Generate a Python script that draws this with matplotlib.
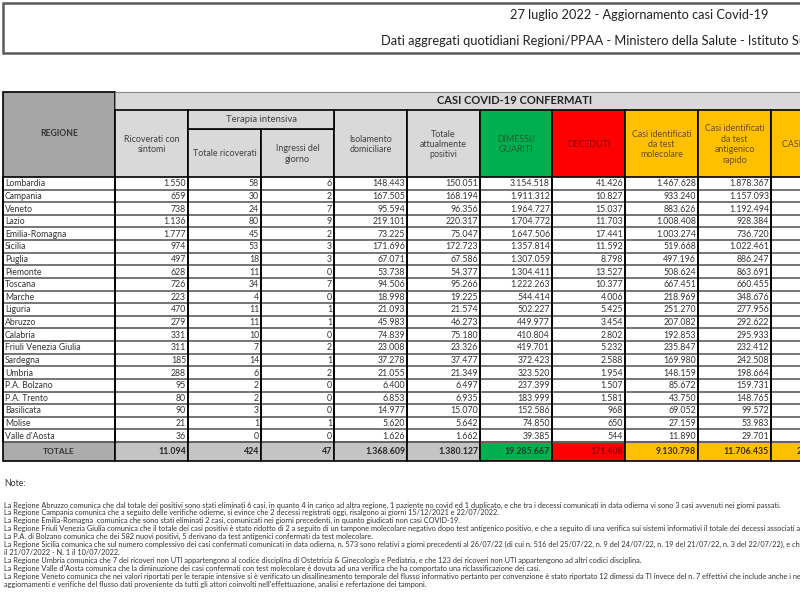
import matplotlib.pyplot as plt
from matplotlib.patches import Rectangle

plt.rcParams['font.family'] = ['Lato', 'DejaVu Sans']

# Table data (Italian regional COVID-19 bulletin, 27 July 2022)
regioni = ["Lombardia", "Campania", "Veneto", "Lazio", "Emilia-Romagna", "Sicilia",
           "Puglia", "Piemonte", "Toscana", "Marche", "Liguria", "Abruzzo", "Calabria",
           "Friuli Venezia Giulia", "Sardegna", "Umbria", "P.A. Bolzano", "P.A. Trento",
           "Basilicata", "Molise", "Valle d'Aosta"]
ricoverati = ["1.550", "659", "738", "1.136", "1.777", "974", "497", "628", "726", "223",
              "470", "279", "331", "311", "185", "288", "95", "80", "90", "21", "36"]
ti_totale = ["58", "30", "24", "80", "45", "53", "18", "11", "34", "4", "11", "11", "10",
             "7", "14", "6", "2", "2", "3", "1", "0"]
ti_ingressi = ["6", "2", "7", "9", "2", "3", "3", "0", "7", "0", "1", "1", "0", "2", "1",
               "2", "0", "0", "0", "1", "0"]
isolamento = ["148.443", "167.505", "95.594", "219.101", "73.225", "171.696", "67.071",
              "53.738", "94.506", "18.998", "21.093", "45.983", "74.839", "23.008",
              "37.278", "21.055", "6.400", "6.853", "14.977", "5.620", "1.626"]
positivi = ["150.051", "168.194", "96.356", "220.317", "75.047", "172.723", "67.586",
            "54.377", "95.266", "19.225", "21.574", "46.273", "75.180", "23.326",
            "37.477", "21.349", "6.497", "6.935", "15.070", "5.642", "1.662"]
dimessi = ["3.154.518", "1.911.312", "1.964.727", "1.704.772", "1.647.506", "1.357.814",
           "1.307.059", "1.304.411", "1.222.263", "544.414", "502.227", "449.977",
           "410.804", "419.701", "372.423", "323.520", "237.399", "183.999", "152.586",
           "74.850", "39.385"]
deceduti = ["41.426", "10.827", "15.037", "11.703", "17.441", "11.592", "8.798", "13.527",
            "10.377", "4.006", "5.425", "3.454", "2.802", "5.232", "2.588", "1.954",
            "1.507", "1.581", "968", "650", "544"]
casi_molecolare = ["1.467.628", "933.240", "883.626", "1.008.408", "1.003.274", "519.668",
                   "497.196", "508.624", "667.451", "218.969", "251.270", "207.082",
                   "192.853", "235.847", "169.980", "148.159", "85.672", "43.750",
                   "69.052", "27.159", "11.890"]
casi_antigenico = ["1.878.367", "1.157.093", "1.192.494", "928.384", "736.720", "1.022.461",
                   "886.247", "863.691", "660.455", "348.676", "277.956", "292.622",
                   "295.933", "232.412", "242.508", "198.664", "159.731", "148.765",
                   "99.572", "53.983", "29.701"]
totali = ["11.094", "424", "47", "1.368.609", "1.380.127", "19.285.667", "171.408",
          "9.130.798", "11.706.435", "20.837.233"]

headers = ["Ricoverati con\nsintomi", "Totale ricoverati", "Ingressi del\ngiorno",
           "Isolamento\ndomiciliare", "Totale\nattualmente\npositivi", "DIMESSI/\nGUARITI",
           "DECEDUTI", "Casi identificati\nda test\nmolecolare",
           "Casi identificati\nda test\nantigenico\nrapido", "CASI TOTALI"]

note = [
    "La Regione Abruzzo comunica che dal totale dei positivi sono stati eliminati 6 casi, in quanto 4 in carico ad altra regione, 1 paziente no covid ed 1 duplicato, e che tra i decessi comunicati in data odierna vi sono 3 casi avvenuti nei giorni passati.",
    "La Regione Campania comunica che a seguito delle verifiche odierne, si evince che 2 decessi registrati oggi, risalgono ai giorni 15/12/2021 e 22/07/2022.",
    "La Regione Emilia-Romagna  comunica che sono stati eliminati 2 casi, comunicati nei giorni precedenti, in quanto giudicati non casi COVID-19.",
    "La Regione Friuli Venezia Giulia comunica che il totale dei casi positivi è stato ridotto di 2 a seguito di un tampone molecolare negativo dopo test antigenico positivo, e che a seguito di una verifica sui sistemi informativi il totale dei decessi associati a COVID-19 è stato aggiornato.",
    "La P.A. di Bolzano comunica che dei 582 nuovi positivi, 5 derivano da test antigenici confermati da test molecolare.",
    "La Regione Sicilia comunica che sul numero complessivo dei casi confermati comunicati in data odierna, n. 573 sono relativi a giorni precedenti al 26/07/22 (di cui n. 516 del 25/07/22, n. 9 del 24/07/22, n. 19 del 21/07/22, n. 3 del 22/07/22), e che i decessi",
    "il 21/07/2022 - N. 1 il 10/07/2022.",
    "La Regione Umbria comunica che 7 dei ricoveri non UTI appartengono al codice disciplina di Ostetricia & Ginecologia e Pediatria, e che 123 dei ricoveri non UTI appartengono ad altri codici disciplina.",
    "La Regione Valle d'Aosta comunica che la diminuzione dei casi confermati con test molecolare è dovuta ad una verifica che ha comportato una riclassificazione dei casi.",
    "La Regione Veneto comunica che nei valori riportati per le terapie intensive si è verificato un disallineamento temporale del flusso informativo pertanto per convenzione è stato riportato 12 dimessi da TI invece del n. 7 effettivi che include anche i negativizzati",
    "aggiornamenti e verifiche del flusso dati proveniente da tutti gli attori coinvolti nell'effettuazione, analisi e refertazione dei tamponi.",
]

# layout (pixel space)
col_edges = [3, 115, 188, 261, 334, 407, 480, 552, 625, 698, 771, 844]
head_top, band_bot, ti_bot, head_bot = 92, 110, 129, 177
row_h = (442 - 177) / len(regioni)
tot_top, tot_bot = 442, 461

light = "#d9d9d9"
green, red, amber = "#00b050", "#ff0000", "#ffc000"
col_fill = [light] * 5 + [green, red, amber, amber, amber]
head_txt = ["#404040"] * 5 + ["#1d5e2e", "#8b0000", "#6b4e00", "#6b4e00", "#6b4e00"]
tot_fill = ["#c4c4c4"] * 5 + [green, red, amber, amber, amber]
tot_txt = ["#262626"] * 5 + ["#124020", "#8b0000", "#3a2a00", "#3a2a00", "#3a2a00"]

fig = plt.figure(figsize=(8, 6), dpi=100)
ax = fig.add_axes([0, 0, 1, 1])
ax.set_xlim(0, 800)
ax.set_ylim(600, 0)
ax.axis('off')

# title box
ax.add_patch(Rectangle((3, 3), 830, 50, facecolor="white", edgecolor="#5a5a5a", lw=1.8))
ax.text(639, 15, "27 luglio 2022 - Aggiornamento casi Covid-19", ha="center", va="center",
        fontsize=9.2, color="#222222")
ax.text(381, 41, "Dati aggregati quotidiani Regioni/PPAA - Ministero della Salute - Istituto Superiore di Sanità",
        ha="left", va="center", fontsize=9.3, color="#222222")

# header
ax.add_patch(Rectangle((3, head_top), 112, head_bot - head_top, facecolor="#a6a6a6",
                       edgecolor="black", lw=1.2))
ax.text(59, 134, "REGIONE", ha="center", va="center", fontsize=6.2, fontweight="bold",
        color="#333333")
ax.add_patch(Rectangle((115, head_top), 760, band_bot - head_top, facecolor=light,
                       edgecolor="#888888", lw=0.8))
ax.text(515, 101, "CASI COVID-19 CONFERMATI", ha="center", va="center", fontsize=8,
        fontweight="bold", color="#222222")
for j, h in enumerate(headers):
    x0, x1 = col_edges[j + 1], col_edges[j + 2]
    top = ti_bot if j in (1, 2) else band_bot
    ax.add_patch(Rectangle((x0, top), x1 - x0, head_bot - top, facecolor=col_fill[j],
                           edgecolor="black", lw=1.2))
    ax.text((x0 + x1) / 2, (top + head_bot) / 2 + 1, h, ha="center", va="center",
            fontsize=6.4, color=head_txt[j], linespacing=1.2)
ax.add_patch(Rectangle((188, band_bot), 146, ti_bot - band_bot, facecolor=light,
                       edgecolor="black", lw=1.2))
ax.text(261, 119.5, "Terapia intensiva", ha="center", va="center", fontsize=6.8,
        color="#404040")

# data rows
columns = [ricoverati, ti_totale, ti_ingressi, isolamento, positivi, dimessi, deceduti,
           casi_molecolare, casi_antigenico]
for i, reg in enumerate(regioni):
    y0 = head_bot + i * row_h
    yc = y0 + row_h / 2 + 0.5
    ax.plot([3, 800], [y0 + row_h, y0 + row_h], color="#6b6b6b", lw=1.3)
    ax.text(5, yc, reg, ha="left", va="center", fontsize=6.2, color="#333333")
    for j, col in enumerate(columns):
        ax.text(col_edges[j + 2] - 2, yc, col[i], ha="right", va="center",
                fontsize=6.3, color="#333333")

# totals row
ax.add_patch(Rectangle((3, tot_top), 112, tot_bot - tot_top, facecolor="#acacac",
                       edgecolor="black", lw=1.2))
ax.text(59, (tot_top + tot_bot) / 2, "TOTALE", ha="center", va="center", fontsize=6,
        fontweight="bold", color="#333333")
for j, v in enumerate(totali):
    x0, x1 = col_edges[j + 1], col_edges[j + 2]
    ax.add_patch(Rectangle((x0, tot_top), x1 - x0, tot_bot - tot_top, facecolor=tot_fill[j],
                           edgecolor="black", lw=1.2))
    ax.text(x1 - 2, (tot_top + tot_bot) / 2, v, ha="right", va="center", fontsize=6.3,
            fontweight="bold", color=tot_txt[j])

# vertical column borders
for x in col_edges[:-1]:
    ax.plot([x, x], [head_bot, tot_top], color="black", lw=1.4)

# notes
ax.text(4, 484, "Note:", ha="left", va="center", fontsize=6.3, color="#333333")
for k, line in enumerate(note):
    ax.text(4, 505 + k * 7.9, line, ha="left", va="center", fontsize=5.3, color="#333333")

fig.savefig("out.png", dpi=100)
